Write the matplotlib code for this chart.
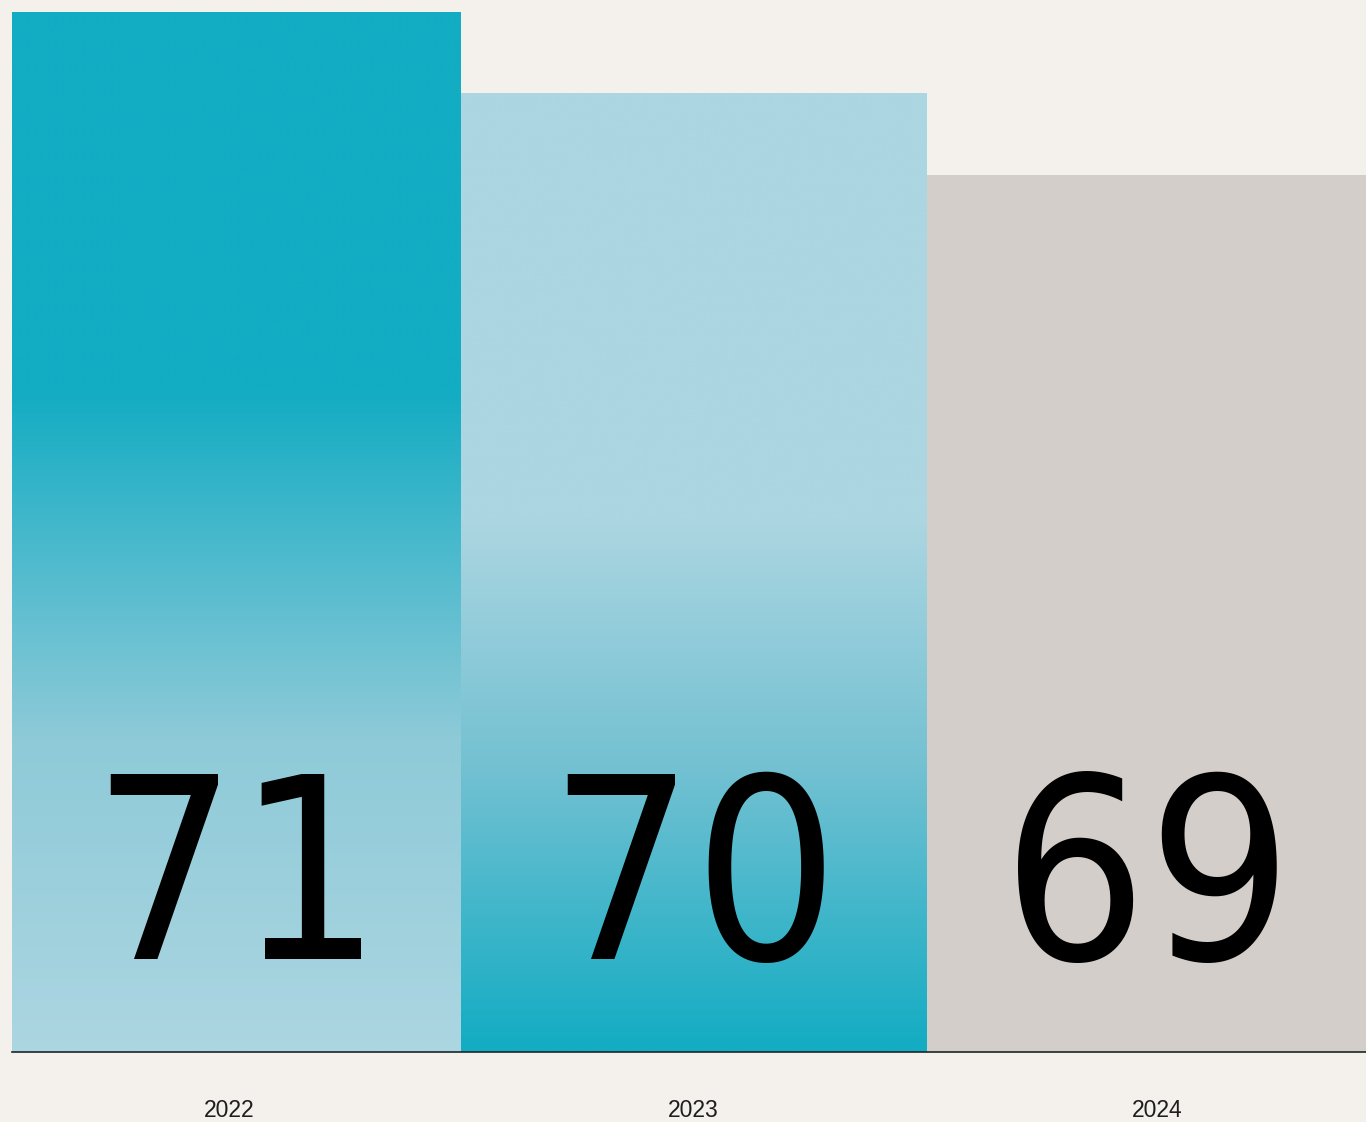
import numpy as np
import matplotlib
matplotlib.use('Agg')
import matplotlib.pyplot as plt
from matplotlib.colors import LinearSegmentedColormap
from matplotlib.transforms import blended_transform_factory

# data
years = ['2022', '2023', '2024']
scores = [71, 70, 69]

# layout / style
rel_widths = [449, 466, 440]
band = 464  # spacing of the category labels
teal = '#12acc3'
light = '#acd6e1'
grey = '#d3ceca'
bg = '#f4f1ec'

plt.rcParams['font.family'] = ['Liberation Sans', 'DejaVu Sans']

fig = plt.figure(figsize=(13.66, 11.22), dpi=100, facecolor=bg)
ax = fig.add_axes([12 / 1366, 70 / 1122, 1354 / 1366, 1052 / 1122])
ax.set_facecolor(bg)

lefts = np.concatenate([[0], np.cumsum(rel_widths)[:-1]])
centers = lefts + np.array(rel_widths) / 2
ymin, ymax = 58.239, 71.147

# gradient maps (bottom -> top)
cmap1 = LinearSegmentedColormap.from_list('g1', [(0, light), (0.3, '#8ecad8'), (0.637, teal), (1, teal)])
cmap2 = LinearSegmentedColormap.from_list('g2', [(0, teal), (0.3, '#74c1d2'), (0.555, light), (1, light)])
cmaps = [cmap1, cmap2, None]

bars = ax.bar(lefts, [s - ymin for s in scores], bottom=ymin, width=rel_widths,
              align='edge', color=[teal, light, grey], linewidth=0)

grad = np.linspace(0, 1, 512).reshape(-1, 1)
for bar, cm in zip(bars, cmaps):
    if cm is None:
        continue
    x0, y0 = bar.get_x(), bar.get_y()
    im = ax.imshow(grad, cmap=cm, origin='lower', aspect='auto',
                   extent=[x0, x0 + bar.get_width(), y0, y0 + bar.get_height()],
                   interpolation='bilinear', zorder=bar.get_zorder() + 0.1)
    im.set_clip_path(bar)

trans = blended_transform_factory(ax.transData, ax.transAxes)
for c, s in zip(centers, scores):
    ax.text(c, 93 / 1052, str(s), transform=trans, ha='center', va='baseline',
            fontsize=183, family='DejaVu Sans', fontstretch='condensed',
            color='black', zorder=5)

ax.set_xlim(0, sum(rel_widths) - 1)
ax.set_ylim(ymin, ymax)
ax.set_xticks(np.arange(len(years)) * band + band / 2 - 15)
ax.set_xticklabels(years, fontsize=16.5, color='#1e1e1e')
ax.tick_params(axis='x', length=0, pad=34)
ax.set_yticks([])
for sp in ['top', 'left', 'right']:
    ax.spines[sp].set_visible(False)
ax.spines['bottom'].set_color('#1c2626')
ax.spines['bottom'].set_linewidth(1.2)
ax.spines['bottom'].set_zorder(6)

fig.savefig('out.png', dpi=100, facecolor=bg)
